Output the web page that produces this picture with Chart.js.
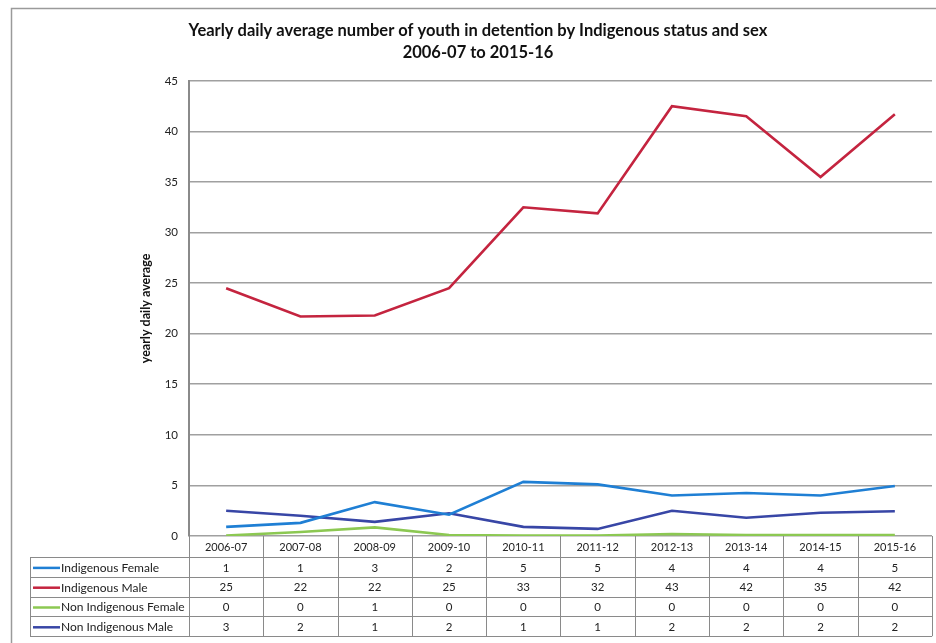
<!DOCTYPE html>
<html>
<head>
<meta charset="utf-8">
<script src="https://cdn.jsdelivr.net/npm/chart.js@4.4.1/dist/chart.umd.min.js"></script>
<style>
  html, body { margin: 0; padding: 0; background: #fff; }
  #wrap { width: 936px; height: 643px; position: relative; }
</style>
</head>
<body>
<div id="wrap"><canvas id="detentionChart" width="936" height="643"></canvas></div>
<script>
// --- data ---
const years = ['2006-07', '2007-08', '2008-09', '2009-10', '2010-11', '2011-12', '2012-13', '2013-14', '2014-15', '2015-16'];
const yTicks = [0, 5, 10, 15, 20, 25, 30, 35, 40, 45];

// plotted (unrounded) values
const indigenousFemale    = [0.9, 1.3, 3.35, 2.1, 5.35, 5.1, 4.0, 4.25, 4.0, 4.95];
const indigenousMale      = [24.5, 21.7, 21.8, 24.5, 32.5, 31.9, 42.5, 41.5, 35.5, 41.7];
const nonIndigenousFemale = [0.05, 0.4, 0.85, 0.1, 0.05, 0.05, 0.2, 0.1, 0.1, 0.1];
const nonIndigenousMale   = [2.5, 2.0, 1.4, 2.25, 0.9, 0.7, 2.5, 1.8, 2.3, 2.45];

// rounded values shown in the data table
const tableIndigenousFemale    = [1, 1, 3, 2, 5, 5, 4, 4, 4, 5];
const tableIndigenousMale      = [25, 22, 22, 25, 33, 32, 43, 42, 35, 42];
const tableNonIndigenousFemale = [0, 0, 1, 0, 0, 0, 0, 0, 0, 0];
const tableNonIndigenousMale   = [3, 2, 1, 2, 1, 1, 2, 2, 2, 2];

const seriesNames = ['Indigenous Female', 'Indigenous Male', 'Non Indigenous Female', 'Non Indigenous Male'];
const colours = ['#1f7fd4', '#c4243f', '#8cc852', '#3846a6'];

const FONT = 'Lato, "Open Sans", sans-serif';

// frame round the whole chart
const framePlugin = {
    id: 'frame',
    beforeDraw(chart) {
        const ctx = chart.ctx;
        ctx.save();
        ctx.strokeStyle = '#9a9a9a';
        ctx.lineWidth = 1.5;
        ctx.strokeRect(11.5, 8.5, 960, 700);
        ctx.restore();
    }
};

// data table drawn under the plot, lined up with the x scale
const tablePlugin = {
    id: 'dataTable',
    afterDraw(chart) {
        const ctx = chart.ctx;
        const x = chart.scales.x;
        const area = chart.chartArea;
        const step = x.getPixelForValue(1) - x.getPixelForValue(0);
        const left = x.getPixelForValue(0) - step / 2;
        const right = x.getPixelForValue(years.length - 1) + step / 2;
        const labelLeft = 30;
        const top = area.bottom;
        const headH = 21;
        const rowH = 19.8;
        const rows = [tableIndigenousFemale, tableIndigenousMale, tableNonIndigenousFemale, tableNonIndigenousMale];
        const bottom = top + headH + rowH * rows.length;

        ctx.save();
        ctx.strokeStyle = '#8a8a8a';
        ctx.lineWidth = 1;

        // vertical lines
        for (let i = 0; i <= years.length; i++) {
            const px = Math.round(left + step * i) + 0.5;
            ctx.beginPath();
            ctx.moveTo(px, top);
            ctx.lineTo(px, bottom);
            ctx.stroke();
        }
        ctx.beginPath();
        ctx.moveTo(labelLeft + 0.5, top + headH);
        ctx.lineTo(labelLeft + 0.5, bottom);
        ctx.stroke();

        // horizontal lines
        for (let r = 0; r <= rows.length; r++) {
            const py = Math.round(top + headH + rowH * r) + 0.5;
            ctx.beginPath();
            ctx.moveTo(labelLeft, py);
            ctx.lineTo(right, py);
            ctx.stroke();
        }

        // header
        ctx.fillStyle = '#222';
        ctx.font = '11px ' + FONT;
        ctx.textAlign = 'center';
        ctx.textBaseline = 'middle';
        years.forEach((y, i) => {
            ctx.fillText(y, x.getPixelForValue(i), top + headH / 2 + 1);
        });

        // rows
        rows.forEach((vals, r) => {
            const cy = top + headH + rowH * r + rowH / 2 + 1;
            ctx.strokeStyle = colours[r];
            ctx.lineWidth = 2.5;
            ctx.beginPath();
            ctx.moveTo(labelLeft + 3, cy);
            ctx.lineTo(labelLeft + 30, cy);
            ctx.stroke();
            ctx.fillStyle = '#222';
            ctx.textAlign = 'left';
            ctx.font = '12px ' + FONT;
            ctx.fillText(seriesNames[r], labelLeft + 31, cy);
            ctx.textAlign = 'center';
            ctx.font = '11.5px ' + FONT;
            vals.forEach((v, i) => {
                ctx.fillText(String(v), x.getPixelForValue(i), cy);
            });
        });
        ctx.restore();
    }
};

function makeSet(label, data, colour) {
    return {
        label: label,
        data: data,
        borderColor: colour,
        backgroundColor: colour,
        borderWidth: 2.6,
        pointRadius: 0,
        tension: 0,
        fill: false
    };
}

new Chart(document.getElementById('detentionChart'), {
    type: 'line',
    data: {
        labels: years,
        datasets: [
            makeSet(seriesNames[0], indigenousFemale, colours[0]),
            makeSet(seriesNames[1], indigenousMale, colours[1]),
            makeSet(seriesNames[2], nonIndigenousFemale, colours[2]),
            makeSet(seriesNames[3], nonIndigenousMale, colours[3])
        ]
    },
    options: {
        responsive: false,
        animation: false,
        layout: {
            padding: { left: 24, right: 4, top: 20, bottom: 107 }
        },
        plugins: {
            legend: { display: false },
            tooltip: { enabled: false },
            title: {
                display: true,
                text: ['Yearly daily average number of youth in detention by Indigenous status and sex', '2006-07 to 2015-16'],
                color: '#111',
                font: { family: FONT, size: 16.5, weight: 'bold', lineHeight: 1.33 },
                padding: { top: 0, bottom: 17 }
            }
        },
        scales: {
            x: {
                type: 'category',
                display: false,
                offset: true
            },
            y: {
                min: 0,
                max: 45,
                afterBuildTicks(scale) {
                    scale.ticks = yTicks.map(v => ({ value: v }));
                },
                afterFit(scale) {
                    scale.width = 165;
                },
                grid: {
                    color: '#a0a0a0',
                    lineWidth: 1.6,
                    drawTicks: false
                },
                border: { display: true, color: '#8a8a8a', width: 2 },
                ticks: {
                    color: '#222',
                    padding: 11,
                    font: { family: FONT, size: 11.5 }
                },
                title: {
                    display: true,
                    text: 'yearly daily average',
                    color: '#111',
                    font: { family: FONT, size: 12.5, weight: 'bold' },
                    padding: { top: 114, bottom: 0 }
                }
            }
        }
    },
    plugins: [framePlugin, tablePlugin]
});
</script>
</body>
</html>
